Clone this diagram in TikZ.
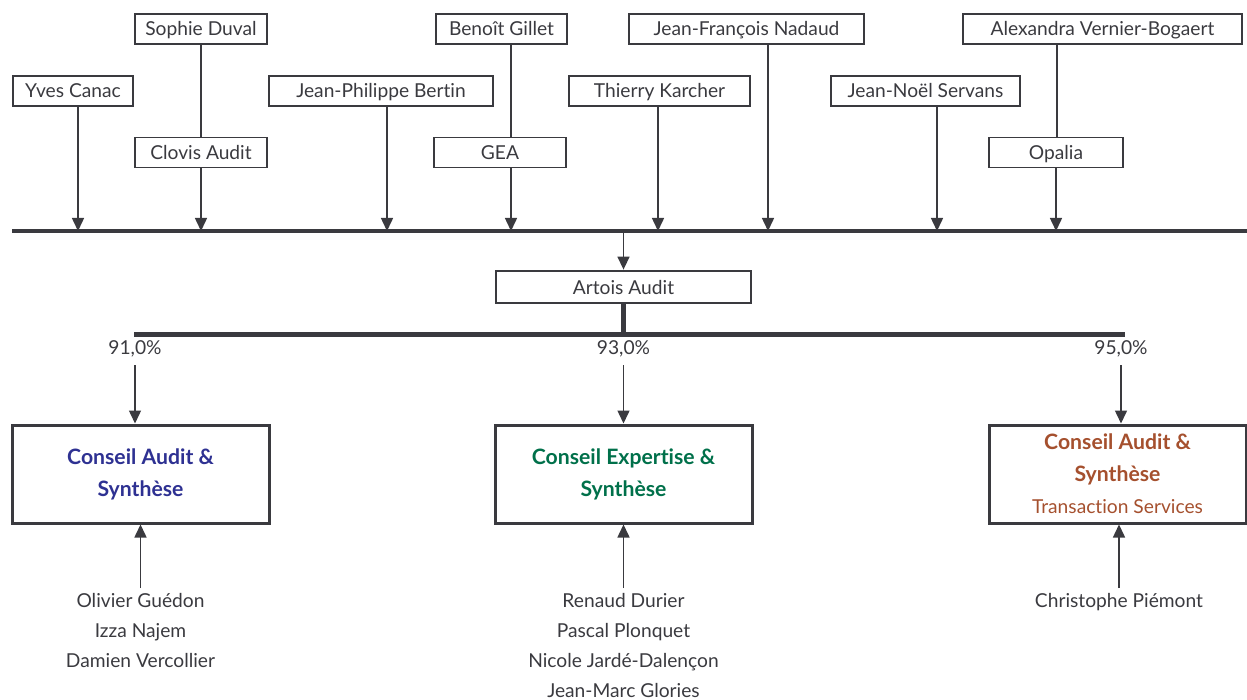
\documentclass[tikz,border=0pt]{standalone}
\usepackage{fontspec}
\setmainfont{Lato}[Ligatures=NoCommon]
\usepackage{tikz}
\usetikzlibrary{arrows.meta,positioning}

\begin{document}
\begin{tikzpicture}
			[x=0.5pt,y=-0.5pt,line cap=butt,
			%Styles
			every node/.style={font=\fontsize{9.6}{15}\selectfont,text=inkgray},
			holder/.style={draw=inkgray,line width=0.65pt,minimum height=15pt,inner sep=0pt,
				text height=8pt,text depth=1pt,minimum width=#1},
			firm/.style={draw=inkgray,line width=1.5pt,minimum width=128.5pt,minimum height=49pt,inner sep=0pt,
				align=center,font=\bfseries\fontsize{10.6}{16}\selectfont,text=#1},
			share/.style={inner sep=0pt,outer ysep=4pt},
			team/.style={anchor=north,align=center,inner sep=0pt,outer ysep=2.5pt},
			link/.style={draw=inkgray,line width=0.75pt},
			feed/.style={draw=inkgray,line width=0.75pt,-{Triangle[width=6pt,length=6.5pt]}},
			bus/.style={draw=inkgray,line width=2.4pt}
			]
			
			%Colors
			\definecolor{inkgray}{HTML}{3A3A3F}
			\definecolor{casblue}{HTML}{2E3192}
			\definecolor{cesgreen}{HTML}{00704A}
			\definecolor{tsbrown}{HTML}{A5502E}
			
			\useasboundingbox (0,0) rectangle (1247,700);
			
			%Shareholders
			\node[holder=66pt] (duval) at (201,29) {Sophie Duval};
			\node[holder=65.5pt] (gillet) at (501.5,29) {Benoît Gillet};
			\node[holder=117.5pt] (nadaud) at (746.5,29) {Jean-François Nadaud};
			\node[holder=139.5pt] (vernier) at (1102.5,29) {Alexandra Vernier-Bogaert};
			
			\node[holder=60pt] (canac) at (73,91) {Yves Canac};
			\node[holder=112pt] (bertin) at (381,91) {Jean-Philippe Bertin};
			\node[holder=90.5pt] (karcher) at (659.5,91) {Thierry Karcher};
			\node[holder=94.5pt] (servans) at (925.5,91) {Jean-Noël Servans};
			
			\node[holder=66pt] (clovis) at (201,152.5) {Clovis Audit};
			\node[holder=66pt] (gea) at (500,152.5) {GEA};
			\node[holder=67pt] (opalia) at (1056,152.5) {Opalia};
			
			\coordinate (busL) at (12,231);
			\coordinate (busR) at (1247,231);
			\draw[bus] (busL) -- (busR);
			
			\draw[link] (duval.south) -- (clovis.north);
			\draw[link] ([xshift=4.75pt]gillet.south) -- ([xshift=4.75pt]gillet.south |- gea.north);
			\draw[link] ([xshift=-22.75pt]vernier.south) -- ([xshift=-22.75pt]vernier.south |- opalia.north);
			
			\draw[feed] ([xshift=2.5pt]canac.south) -- ([xshift=2.5pt]canac.south |- busL);
			\draw[feed] (clovis.south) -- (clovis.south |- busL);
			\draw[feed] ([xshift=3pt]bertin.south) -- ([xshift=3pt]bertin.south |- busL);
			\draw[feed] ([xshift=5.5pt]gea.south) -- ([xshift=5.5pt]gea.south |- busL);
			\draw[feed] ([xshift=-0.75pt]karcher.south) -- ([xshift=-0.75pt]karcher.south |- busL);
			\draw[feed] ([xshift=10.75pt]nadaud.south) -- ([xshift=10.75pt]nadaud.south |- busL);
			\draw[feed] ([xshift=5.75pt]servans.south) -- ([xshift=5.75pt]servans.south |- busL);
			\draw[feed] (opalia.south) -- (opalia.south |- busL);
			
			%Holding
			\node[holder=127.5pt,line width=1.4pt,minimum height=16pt] (artois) at (623.5,287) {Artois Audit};
			\draw[feed] (artois.north |- busL) -- (artois.north);
			
			\coordinate (subL) at (134,334);
			\coordinate (subR) at (1125,334);
			\draw[bus,line width=2.5pt] (subL) -- (subR);
			\draw[bus] (artois.south) -- (artois.south |- subL);
			
			%Subsidiaries
			\node[share] (pct1) at (135,349) {91,0\%};
			\node[share] (pct2) at (623.5,349) {93,0\%};
			\node[share] (pct3) at (1121,349) {95,0\%};
			
			\node[firm=casblue] (cas) at (140.5,474) {Conseil Audit \&\\Synthèse};
			\node[firm=cesgreen] (ces) at (623.5,474) {Conseil Expertise \&\\Synthèse};
			\node[firm=tsbrown] (cast) at (1117.5,474) {Conseil Audit \&\\Synthèse\\{\mdseries\fontsize{9.6}{16}\selectfont Transaction Services}};
			
			\draw[feed] (pct1.south) -- (pct1.south |- cas.north);
			\draw[feed] (pct2.south) -- (pct2.south |- ces.north);
			\draw[feed] (pct3.south) -- (pct3.south |- cast.north);
			
			%Partners
			\node[team] (casteam) at (140.5,588) {Olivier Guédon\\Izza Najem\\Damien Vercollier};
			\node[team] (cesteam) at (623.5,588) {Renaud Durier\\Pascal Plonquet\\Nicole Jardé-Dalençon\\Jean-Marc Glories};
			\node[team] (castteam) at (1119,588) {Christophe Piémont};
			
			\draw[feed] (casteam.north) -- (casteam.north |- cas.south);
			\draw[feed] (cesteam.north) -- (cesteam.north |- ces.south);
			\draw[feed] (castteam.north) -- (castteam.north |- cast.south);
		\end{tikzpicture}
\end{document}
